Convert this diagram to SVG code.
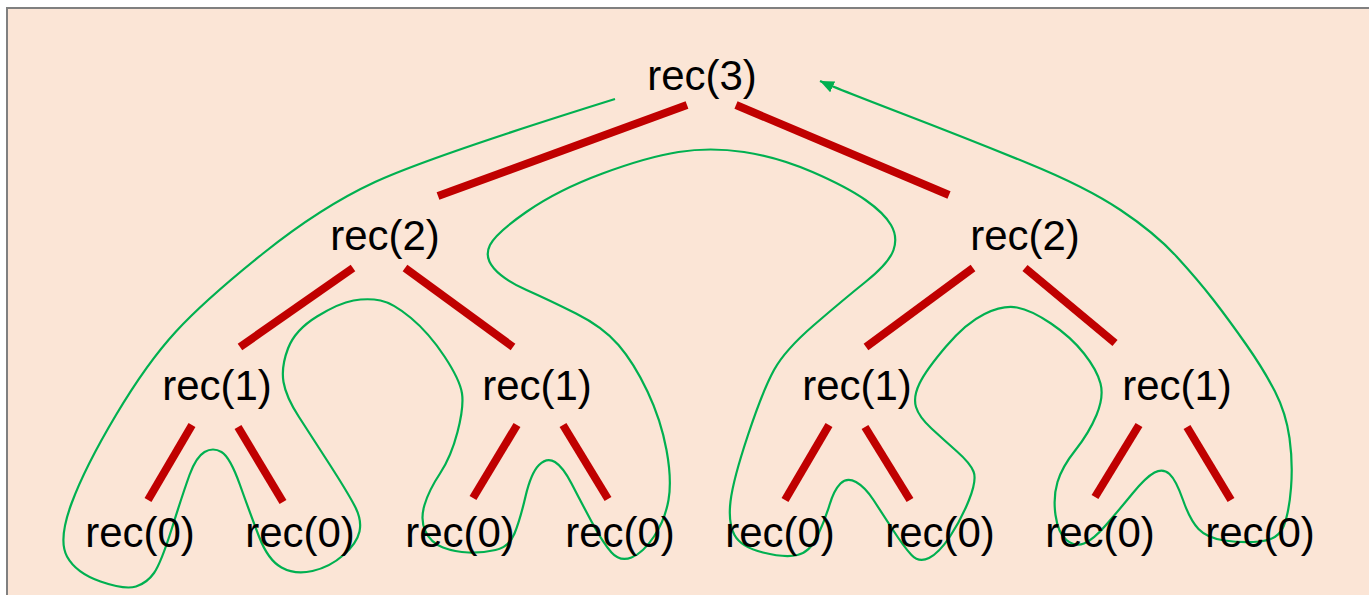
<svg xmlns="http://www.w3.org/2000/svg" width="1369" height="595" viewBox="0 0 1369 595">
<style>
.lbl{font-family:"Liberation Sans",Arial,sans-serif;font-size:42px;fill:#000;text-anchor:middle}
.edge{stroke:#C00000;stroke-width:8;stroke-linecap:butt;fill:none}
.tour{stroke:#00B050;stroke-width:2.2;fill:none;stroke-linejoin:round}
</style>
<defs>
<marker id="arr" markerUnits="userSpaceOnUse" markerWidth="16" markerHeight="12" refX="14" refY="6" orient="auto">
<path d="M0,0 L14,6 L0,12 Z" fill="#00B050"/>
</marker>
</defs>
<rect x="0" y="0" width="1369" height="595" fill="#FFFFFF"/>
<rect x="7" y="8" width="1370" height="600" fill="#FBE5D6" stroke="#808080" stroke-width="2"/>
<g id="connectors">
<line class="edge" x1="687" y1="105" x2="438" y2="196"/>
<line class="edge" x1="736" y1="105" x2="949" y2="195"/>
<line class="edge" x1="353" y1="268" x2="240" y2="347"/>
<line class="edge" x1="405" y1="268" x2="513" y2="347"/>
<line class="edge" x1="973" y1="268" x2="866" y2="347"/>
<line class="edge" x1="1025" y1="268" x2="1115" y2="343"/>
<line class="edge" x1="192" y1="425" x2="148" y2="500"/>
<line class="edge" x1="238" y1="427" x2="283" y2="502"/>
<line class="edge" x1="517" y1="425" x2="473" y2="498"/>
<line class="edge" x1="563" y1="425" x2="608" y2="499"/>
<line class="edge" x1="829" y1="425" x2="785" y2="500"/>
<line class="edge" x1="865" y1="427" x2="910" y2="500"/>
<line class="edge" x1="1139" y1="425" x2="1095" y2="497"/>
<line class="edge" x1="1187" y1="427" x2="1231" y2="500"/>
<path class="tour" marker-end="url(#arr)" d="M615,99 Q429,157 375,182 T263,253.5 T176,331.5 T116,415 T71.5,503.5 T67,556.5 T100.5,581.5 T136,586.5 T154,573 T172,528 T189.5,475 T204.5,452 T221.5,452 T240,485 T259,536.5 T281.5,567.5 T312.5,571 T343.5,555 T359.5,531.5 T355,506.5 T330,465 T299,417 T283.5,382 T288,348.5 T317,316.5 T353.5,300.5 T380.5,300.5 T411,318 T444.5,356.5 T462,393.5 T457.5,432 T440,473.5 T424.5,505 T425.5,531.5 T443,547.5 T468.5,552.5 T495.5,550 T514.5,533.5 T525.5,496.5 T539,465 T555,462 T571.5,483.5 T591.5,521.5 T611.5,552.5 T631.5,557.5 T654,536.5 T668.5,500 T666.5,450 T647.5,391.5 T618.5,345 T576,313.5 T526.5,290 T494,268.5 T490,245 T527,211.5 T602.5,173.5 T678.5,152 T744,152 T812.5,172 T865.5,200 T891,225 T893.5,250 T866,281.5 T814,325 T774,370 T748,435 T730.5,501.5 T734.5,535 T763,552.5 T797.5,555 T817.5,536 T829.5,505 T840.5,483.5 T856,482 T873.5,500 T893,530 T911.5,555 T929,558 T950,536.5 T969,500 T973.5,471.5 T957,451.5 T931.5,428.5 T916,407 T919.5,383.5 T946,346.5 T984.5,314 T1017,307.5 T1051,323.5 T1084,353.5 T1100.5,383.5 T1096.5,415 T1075.5,450 T1057.5,482 T1055.5,515 T1066.5,540 T1084,543.5 T1106,525 T1132.5,493.5 T1154.5,472.5 T1169.5,474 T1183,500 T1198.5,529 T1224.5,540.5 T1260,541.5 T1283.5,526.5 T1291,488 T1289.5,438 T1275,391.5 T1246.5,345 T1213.5,300 T1176.5,256.5 T1120.5,210 T1028.5,163.5 T902,113.5 Q833,87 820,81"/>
</g>
<g id="n3"><text class="lbl" x="702" y="90">rec(3)</text></g>
<g id="n2a"><text class="lbl" x="385" y="250">rec(2)</text></g>
<g id="n2b"><text class="lbl" x="1025" y="250">rec(2)</text></g>
<g id="n1a"><text class="lbl" x="217" y="400">rec(1)</text></g>
<g id="n1b"><text class="lbl" x="537" y="400">rec(1)</text></g>
<g id="n1c"><text class="lbl" x="857" y="400">rec(1)</text></g>
<g id="n1d"><text class="lbl" x="1177" y="400">rec(1)</text></g>
<g id="n0a"><text class="lbl" x="140" y="547">rec(0)</text></g>
<g id="n0b"><text class="lbl" x="300" y="547">rec(0)</text></g>
<g id="n0c"><text class="lbl" x="460" y="547">rec(0)</text></g>
<g id="n0d"><text class="lbl" x="620" y="547">rec(0)</text></g>
<g id="n0e"><text class="lbl" x="780" y="547">rec(0)</text></g>
<g id="n0f"><text class="lbl" x="940" y="547">rec(0)</text></g>
<g id="n0g"><text class="lbl" x="1100" y="547">rec(0)</text></g>
<g id="n0h"><text class="lbl" x="1260" y="547">rec(0)</text></g>
</svg>
